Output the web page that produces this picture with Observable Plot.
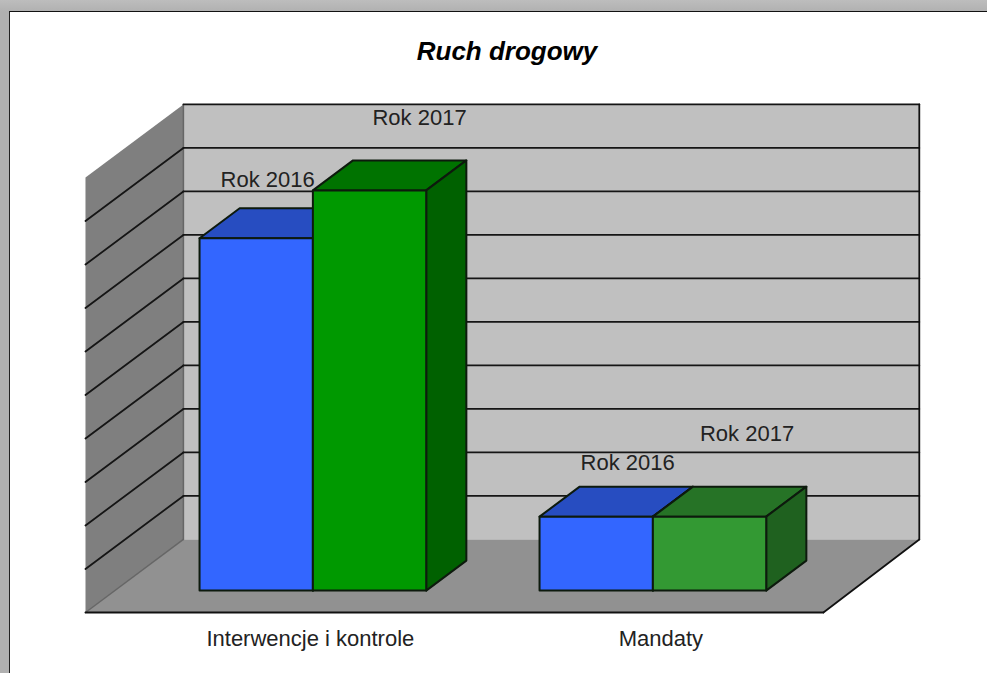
<!DOCTYPE html>
<html lang="pl">
<head>
<meta charset="utf-8">
<script src="https://cdn.jsdelivr.net/npm/d3@7"></script>
<script src="https://cdn.jsdelivr.net/npm/@observablehq/plot@0.6"></script>
<style>
  html, body { margin: 0; padding: 0; width: 987px; height: 673px; overflow: hidden;
    background: linear-gradient(#bdbdbd, #b0b0b0 12px); font-family: "Liberation Sans", Arial, sans-serif; }
  #sheet { position: absolute; left: 9px; top: 11px; right: 0; bottom: 0; background: #fff;
    border-left: 1px solid #222; border-top: 1.5px solid #111; }
  #title { position: absolute; left: 27px; right: 0; top: 35px; text-align: center;
    font: italic bold 26px "Liberation Sans", Arial, sans-serif; color: #000; line-height: 32px; }
  #chart { position: absolute; left: 0; top: 0; }
  #chart svg { background: transparent; display: block; }
</style>
</head>
<body>
<div id="sheet"></div>
<div id="title">Ruch drogowy</div>
<div id="chart"></div>
<script>
// Data
const categories = ["Interwencje i kontrole", "Mandaty"];
const years = ["Rok 2016", "Rok 2017"];
const values2016 = [81, 17];
const values2017 = [92, 17];
const gridValues = [10, 20, 30, 40, 50, 60, 70, 80, 90, 100];

// Styles: [front, top, side] per category and year
const colors2016 = [["#3366ff", "#274dc1", "#1f3d99"], ["#3366ff", "#274dc1", "#1f3d99"]];
const colors2017 = [["#009900", "#007300", "#006100"], ["#339933", "#267326", "#1f611f"]];
const wallBack = "#c0c0c0", wallLeft = "#7f7f7f", floorFill = "#919191";

// Layout of the oblique projection, in scale units
const floorLeft = -0.0824, floorRight = 2.088, backRight = 2.082;
const depthX = 0.288, depthV = 16.8;            // shift of one full depth
const barFront = 0.3, barBack = 0.71;           // bar depth range
const barWidth = 1 / 3;
const categoryLabelX = [0.579, 1.61];
const categoryLabelV = -6;
// Pixel nudges of value labels relative to the bar's top-centre
const labelNudge = [
  [[11.5, -58], [50, -72]],
  [[31.5, -54], [37.5, -83]]
];

const project = (x, v, z) => ({x: x + z * depthX, y: v + z * depthV});
let faceId = 0;
const face = (pts, fill) => {
  const id = faceId++;
  return [...pts, pts[0]].map(([x, v, z]) => ({...project(x, v, z), id, fill}));
};

// Walls and floor
const shell = [
  ...face([[floorLeft, 0, 1], [backRight, 0, 1], [backRight, 100, 1], [floorLeft, 100, 1]], wallBack),
  ...face([[floorLeft, 0, 0], [floorLeft, 0, 1], [floorLeft, 100, 1], [floorLeft, 100, 0]], wallLeft),
  ...face([[floorLeft, 0, 0], [floorRight, 0, 0], [backRight, 0, 1], [floorLeft, 0, 1]], floorFill)
];

// Grid lines on the back and left walls
const segment = (a, b) => {
  const id = faceId++;
  return [a, b].map(([x, v, z]) => ({...project(x, v, z), id}));
};
const grid = gridValues.flatMap(v => [
  ...segment([floorLeft, v, 1], [backRight, v, 1]),
  ...(v < 100 ? segment([floorLeft, v, 0], [floorLeft, v, 1]) : [])
]);
const edges = [
  ...segment([floorLeft, 0, 0], [floorRight, 0, 0]),
  ...segment([floorRight, 0, 0], [backRight, 0, 1]),
  ...segment([backRight, 0, 1], [backRight, 100, 1])
];
const wallEdge = [
  ...segment([floorLeft, 0, 1], [floorLeft, 100, 1]),
  ...segment([floorLeft, 0, 0], [floorLeft, 0, 1])
];

// Bars
const series = [[values2016, colors2016], [values2017, colors2017]];
const barFaces = [];
const barLabels = [];
categories.forEach((cat, i) => {
  series.forEach(([vals, cols], j) => {
    const x0 = i + 0.5 - barWidth + j * barWidth, x1 = x0 + barWidth, v = vals[i];
    const [front, top, side] = cols[i];
    barFaces.push(
      ...face([[x0, v, barFront], [x1, v, barFront], [x1, v, barBack], [x0, v, barBack]], top),
      ...face([[x1, 0, barFront], [x1, 0, barBack], [x1, v, barBack], [x1, v, barFront]], side),
      ...face([[x0, 0, barFront], [x1, 0, barFront], [x1, v, barFront], [x0, v, barFront]], front)
    );
    const c = project((x0 + x1) / 2, v, barFront);
    barLabels.push({...c, text: years[j], dx: labelNudge[i][j][0], dy: labelNudge[i][j][1]});
  });
});

const chart = Plot.plot({
  width: 987,
  height: 673,
  margin: 0,
  x: {type: "linear", domain: [0, 2], range: [113, 793], axis: null},
  y: {type: "linear", domain: [0, 100], range: [612, 177], axis: null},
  color: {type: "identity"},
  style: {background: "transparent"},
  marks: [
    Plot.line(shell, {x: "x", y: "y", z: "id", fill: "fill", stroke: "none"}),
    Plot.line(wallEdge, {x: "x", y: "y", z: "id", stroke: "#666666", strokeWidth: 1.5}),
    Plot.line(grid, {x: "x", y: "y", z: "id", stroke: "#151515", strokeWidth: 1.8}),
    Plot.line(edges, {x: "x", y: "y", z: "id", stroke: "#111111", strokeWidth: 1.8}),
    Plot.line(barFaces, {x: "x", y: "y", z: "id", fill: "fill", stroke: "#0d1a0d", strokeWidth: 2, strokeLinejoin: "round"}),
    ...barLabels.map(d => Plot.text([d], {
      x: "x", y: "y", text: "text", dx: d.dx, dy: d.dy,
      fontSize: 22, fill: "#222", fontFamily: "Liberation Sans, Arial, sans-serif"
    })),
    Plot.text(categories, {
      x: (d, i) => categoryLabelX[i], y: () => categoryLabelV, text: d => d,
      fontSize: 22, fill: "#222", fontFamily: "Liberation Sans, Arial, sans-serif"
    })
  ]
});
document.getElementById("chart").appendChild(chart);
</script>
</body>
</html>
